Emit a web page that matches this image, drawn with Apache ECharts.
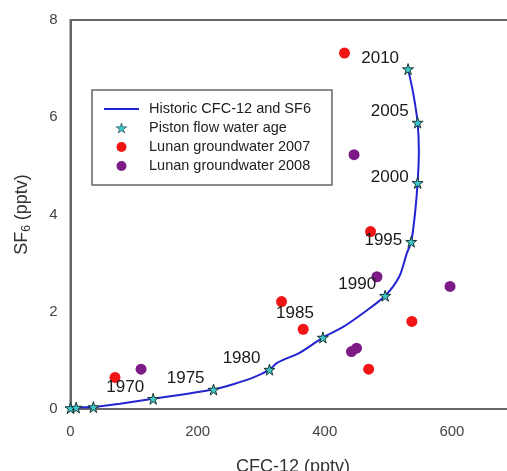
<!DOCTYPE html>
<html>
<head>
<meta charset="utf-8">
<style>
  html, body { margin: 0; padding: 0; background: #fff; }
  #main { width: 507px; height: 471px; }
</style>
<script src="https://cdn.jsdelivr.net/npm/echarts@6/dist/echarts.min.js"></script>
</head>
<body>
<div id="main"></div>
<script>
// historic atmospheric curve (CFC-12, SF6)
var curveCfc = [0, 9, 36, 78, 130, 225, 256, 288, 313, 325, 361, 397, 429, 460, 495, 517, 529, 536, 542, 546, 548, 546, 539, 531];
var curveSf6 = [0, 0.03, 0.04, 0.11, 0.21, 0.40, 0.51, 0.65, 0.81, 0.95, 1.16, 1.47, 1.69, 1.97, 2.33, 2.72, 3.2, 3.44, 4.03, 4.65, 5.3, 5.89, 6.5, 6.99];

// piston flow water age points
var pistonYears = [1955, 1960, 1965, 1970, 1975, 1980, 1985, 1990, 1995, 2000, 2005, 2010];
var pistonCfc = [0, 9, 36, 130, 225, 313, 397, 495, 536, 546, 546, 531];
var pistonSf6 = [0.02, 0.03, 0.04, 0.21, 0.40, 0.81, 1.47, 2.33, 3.44, 4.65, 5.89, 6.99];
var labelledYears = [1970, 1975, 1980, 1985, 1990, 1995, 2000, 2005, 2010];

// groundwater samples
var gw2007Cfc = [431, 472, 332, 537, 366, 469, 70];
var gw2007Sf6 = [7.32, 3.65, 2.21, 1.80, 1.64, 0.82, 0.65];
var gw2008Cfc = [446, 482, 597, 442, 450, 111];
var gw2008Sf6 = [5.23, 2.72, 2.52, 1.18, 1.25, 0.82];

var xTicks = [0, 200, 400, 600];
var yTicks = [0, 2, 4, 6, 8];

function zip(a, b) {
  return a.map(function (v, i) { return [v, b[i]]; });
}

var starPath = 'path://M50,0 L61,35 L98,35 L68,57 L79,91 L50,70 L21,91 L32,57 L2,35 L39,35 Z';

// label vertical shifts (px) for a few year labels
var labelShift = { 1985: -24, 1995: -1, 2000: -6 };

var pistonData = pistonYears.map(function (yr, i) {
  var item = { value: [pistonCfc[i], pistonSf6[i]], name: String(yr) };
  if (labelledYears.indexOf(yr) >= 0) {
    item.label = {
      show: true,
      offset: [0, labelShift[yr] !== undefined ? labelShift[yr] : -11]
    };
  }
  return item;
});

var chart = echarts.init(document.getElementById('main'));
var axisColor = '#666';

chart.setOption({
  animation: false,
  backgroundColor: '#fff',
  grid: {
    left: 70.5, right: -8.5, top: 20, bottom: 62,
    containLabel: false, outerBoundsMode: 'none',
    show: true, borderColor: axisColor, borderWidth: 2
  },
  legend: {
    orient: 'vertical',
    left: 92, top: 90,
    padding: [10.5, 21, 10.5, 11],
    itemWidth: 35, itemHeight: 10, itemGap: 2,
    borderColor: axisColor, borderWidth: 1.5,
    backgroundColor: '#fff',
    textStyle: { fontFamily: 'Liberation Sans', fontSize: 14.5, lineHeight: 17, color: '#222', padding: [0, 0, 0, 5] },
    data: [
      { name: 'Historic CFC-12 and SF6', itemStyle: { opacity: 0 } },
      { name: 'Piston flow water age', itemStyle: { borderWidth: 0.6 } },
      'Lunan groundwater 2007',
      'Lunan groundwater 2008'
    ]
  },
  xAxis: {
    type: 'value', min: 0, max: 700, interval: 200,
    name: 'CFC-12 (pptv)', nameLocation: 'middle', nameGap: 49,
    nameTextStyle: { fontFamily: 'Liberation Sans', fontSize: 18, color: '#333' },
    axisLine: { show: true, lineStyle: { color: axisColor, width: 2 } },
    axisTick: { show: false },
    splitLine: { show: false },
    axisLabel: {
      margin: 15, fontFamily: 'Liberation Sans', fontSize: 15, color: '#444',
      showMaxLabel: false,
      formatter: function (v) { return xTicks.indexOf(v) >= 0 ? String(v) : ''; }
    }
  },
  yAxis: {
    type: 'value', min: 0, max: 8, interval: 2,
    name: '{a|SF}{b|6}{a| (pptv)}', nameLocation: 'middle', nameGap: 38,
    nameTextStyle: {
      rich: {
        a: { fontFamily: 'Liberation Sans', fontSize: 18, color: '#333' },
        b: { fontFamily: 'Liberation Sans', fontSize: 12, color: '#333', padding: [8, 0, 0, 0] }
      }
    },
    axisLine: { show: true, lineStyle: { color: axisColor, width: 2 } },
    axisTick: { show: false },
    splitLine: { show: false },
    axisLabel: {
      margin: 13, fontFamily: 'Liberation Sans', fontSize: 15, color: '#444',
      formatter: function (v) { return yTicks.indexOf(v) >= 0 ? String(v) : ''; }
    }
  },
  series: [
    {
      name: 'Historic CFC-12 and SF6',
      type: 'line',
      data: zip(curveCfc, curveSf6),
      smooth: 0.3,
      symbol: 'none',
      showSymbol: false,
      lineStyle: { color: '#2323d0', width: 2 },
      itemStyle: { color: '#2323d0' },
      z: 2
    },
    {
      name: 'Lunan groundwater 2007',
      type: 'scatter',
      data: zip(gw2007Cfc, gw2007Sf6),
      symbol: 'circle', symbolSize: 11,
      itemStyle: { color: '#f01414', opacity: 1 },
      z: 3
    },
    {
      name: 'Lunan groundwater 2008',
      type: 'scatter',
      data: zip(gw2008Cfc, gw2008Sf6),
      symbol: 'circle', symbolSize: 11,
      itemStyle: { color: '#7d1b86', opacity: 1 },
      z: 3
    },
    {
      name: 'Piston flow water age',
      type: 'scatter',
      data: pistonData,
      symbol: starPath, symbolSize: 11,
      itemStyle: { color: '#3cc8c8', borderColor: '#1b3535', borderWidth: 1, opacity: 1 },
      label: {
        show: false, position: 'left', distance: 3,
        formatter: '{b}',
        fontFamily: 'Liberation Sans', fontSize: 17, color: '#1a1a1a'
      },
      z: 4
    }
  ]
});
</script>
</body>
</html>
